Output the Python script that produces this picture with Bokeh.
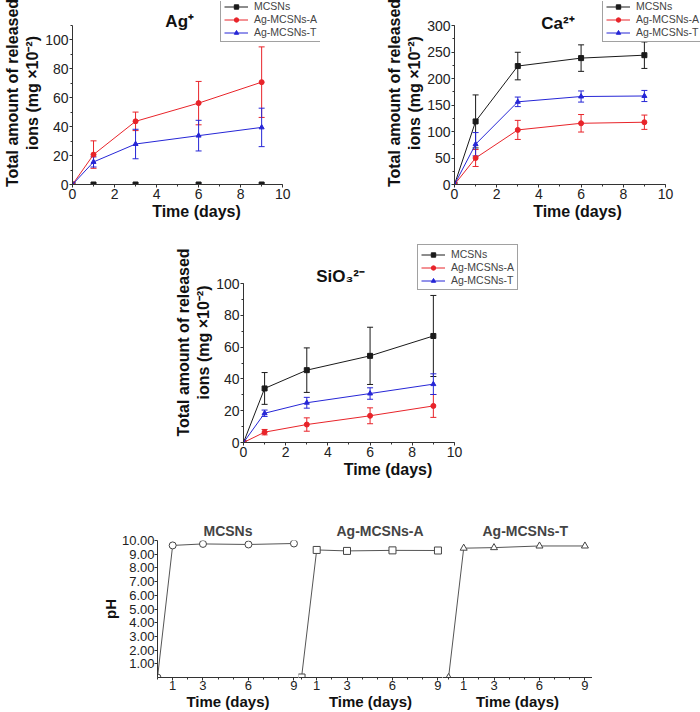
from bokeh.plotting import figure
from bokeh.models import (Range1d, SingleIntervalTicker, FixedTicker, ColumnDataSource,
                          Whisker, TeeHead, NumeralTickFormatter, Spacer, Label)
from bokeh.layouts import column, row
from bokeh.embed import file_html
from bokeh.resources import INLINE

# ---------------- data ----------------
days = [0, 1, 3, 6, 9]
series_names = ["MCSNs", "Ag-MCSNs-A", "Ag-MCSNs-T"]

# Ag+ release (mg x10^-2)
ag_mcsns = [0, 0, 0, 0, 0]
ag_mcsns_err = [0, 0, 0, 0, 0]
ag_a = [0, 20.7, 43.7, 56.3, 70.8]
ag_a_err = [0, 9.5, 6.4, 15.0, 24.4]
ag_t = [0, 15.6, 28.0, 33.8, 39.5]
ag_t_err = [0, 3.5, 10.2, 10.6, 13.3]

# Ca2+ release
ca_mcsns = [0, 119, 223.5, 238.5, 244]
ca_mcsns_err = [0, 50, 26, 25, 25]
ca_a = [0, 50, 103, 115.5, 117.5]
ca_a_err = [0, 16, 18, 16.5, 13.5]
ca_t = [0, 76, 156, 166, 167]
ca_t_err = [0, 22, 9, 10.5, 10.5]

# SiO3 2- release
si_mcsns = [0, 34, 45.5, 54.5, 67]
si_mcsns_err = [0, 10, 14, 18, 25.5]
si_a = [0, 6.5, 11.3, 16.8, 23]
si_a_err = [0, 1.7, 4.2, 5.0, 7.2]
si_t = [0, 18.4, 25, 30.8, 36.7]
si_t_err = [0, 2.0, 3.4, 3.6, 6.5]

# pH
ph_mcsns = [0, 9.64, 9.75, 9.71, 9.78]
ph_a = [0, 9.31, 9.24, 9.28, 9.27]
ph_t = [0, 9.44, 9.48, 9.60, 9.60]

ph_ticks = [1, 3, 6, 9]
ph_minor = [0, 2, 4, 5, 7, 8]
ph_yticks = [1, 2, 3, 4, 5, 6, 7, 8, 9, 10]

# ---------------- styles ----------------
FONT = "Liberation Sans"
COLORS = ["#1a1a1a", "#e8242a", "#2626d6"]
MARKERS = ["square", "circle", "triangle"]
YLABEL = "Total amount of released\nions (mg \u00d710\u207b\u00b2)"


def style_axes(p, label_size="16px"):
    for ax in p.xaxis + p.yaxis:
        ax.axis_line_color = "#333333"
        ax.major_tick_line_color = "#333333"
        ax.minor_tick_line_color = "#333333"
        ax.major_tick_in = 0
        ax.major_tick_out = 3
        ax.minor_tick_in = 0
        ax.minor_tick_out = 2
        ax.major_label_text_font = FONT
        ax.major_label_text_font_size = "14px"
        ax.major_label_text_color = "#222222"
        ax.major_label_standoff = 1
        ax.axis_label_text_font = FONT
        ax.axis_label_text_font_style = "bold"
        ax.axis_label_text_font_size = label_size
        ax.axis_label_text_color = "#111111"
        ax.axis_label_standoff = 1
    p.xgrid.visible = False
    p.ygrid.visible = False
    p.outline_line_color = None


def release_plot(title, title_pos, ytop, ystep, yrange_max, xrange_max, data,
                 width, height, borders, legend_loc):
    left, right, top, bottom = borders
    p = figure(width=width, height=height, output_backend="svg", toolbar_location=None,
               x_range=Range1d(0, xrange_max), y_range=Range1d(0, yrange_max),
               min_border_left=left, min_border_right=right,
               min_border_top=top, min_border_bottom=bottom)
    p.xaxis.ticker = SingleIntervalTicker(interval=2, num_minor_ticks=2)
    p.yaxis.ticker = SingleIntervalTicker(interval=ystep, num_minor_ticks=2)
    p.xaxis.bounds = (0, 10)
    p.yaxis.bounds = (0, ytop)
    p.xaxis.axis_label = "Time (days)"
    p.yaxis.axis_label = YLABEL
    style_axes(p)
    p.add_layout(Label(x=title_pos[0], y=title_pos[1], text=title, text_align="center",
                       text_baseline="alphabetic", text_font=FONT, text_font_size="17px",
                       text_font_style="bold", text_color="#111111"))

    for (vals, errs), name, c, m in zip(data, series_names, COLORS, MARKERS):
        src = ColumnDataSource(dict(x=days, y=vals))
        p.line("x", "y", source=src, line_color=c, line_width=1, legend_label=name)
        p.scatter("x", "y", source=src, marker=m, size=5, color=c, legend_label=name)
        ex = [d for d, e in zip(days, errs) if e > 0]
        up = [v + e for v, e in zip(vals, errs) if e > 0]
        lo = [v - e for v, e in zip(vals, errs) if e > 0]
        if ex:
            wsrc = ColumnDataSource(dict(x=ex, upper=up, lower=lo))
            p.add_layout(Whisker(base="x", upper="upper", lower="lower", source=wsrc,
                                 line_color=c, line_width=1,
                                 upper_head=TeeHead(size=6, line_color=c, line_width=1),
                                 lower_head=TeeHead(size=6, line_color=c, line_width=1)))
    lg = p.legend[0]
    lg.location = legend_loc
    lg.label_text_font = FONT
    lg.label_text_font_size = "10.5px"
    lg.label_height = 11
    lg.glyph_height = 11
    lg.glyph_width = 24
    lg.label_standoff = 6
    lg.spacing = 1
    lg.padding = 3
    lg.margin = 0
    lg.border_line_color = "#444444"
    lg.border_line_width = 1
    lg.background_fill_alpha = 1
    return p


pA = release_plot("Ag\u207a", (5.1, 112.5), 110, 20, 126.6, 11.8,
                  [(ag_mcsns, ag_mcsns_err), (ag_a, ag_a_err), (ag_t, ag_t_err)],
                  350, 230, (70, 30, 1, 46), (148, 142))
pB = release_plot("Ca\u00b2\u207a", (4.9, 303.8), 300, 50, 345.3, 11.66,
                  [(ca_mcsns, ca_mcsns_err), (ca_a, ca_a_err), (ca_t, ca_t_err)],
                  350, 230, (104, 0, 1, 46), (148, 142))
pC = release_plot("SiO\u2083\u00b2\u207b", (4.6, 104.4), 100, 20, 125.8, 13.7,
                  [(si_mcsns, si_mcsns_err), (si_a, si_a_err), (si_t, si_t_err)],
                  380, 260, (83, 8, 12, 48), (174, 152))


def ph_plot(title, vals, marker, width, xr, left, yaxis, title_align, title_offset):
    p = figure(width=width, height=222, output_backend="svg", toolbar_location=None,
               x_range=Range1d(*xr), y_range=Range1d(0, 10),
               min_border_left=left, min_border_right=0,
               min_border_top=50, min_border_bottom=32,
               y_axis_location="left" if yaxis else None)
    p.xaxis.ticker = FixedTicker(ticks=ph_ticks, minor_ticks=ph_minor)
    p.xaxis.axis_label = "Time (days)"
    if yaxis:
        p.yaxis.ticker = FixedTicker(ticks=ph_yticks)
        p.yaxis.formatter = NumeralTickFormatter(format="0.00")
        p.yaxis.axis_label = "pH"
    style_axes(p, label_size="15px")
    for ax in p.xaxis + p.yaxis:
        ax.major_label_text_font_size = "13px"
        ax.major_label_standoff = 0
        ax.axis_label_standoff = 0
    p.title.text = title
    p.title.align = title_align
    p.title.offset = title_offset
    p.title.text_font = FONT
    p.title.text_font_size = "14px"
    p.title.text_font_style = "bold"
    p.title.standoff = 4
    src = ColumnDataSource(dict(x=days, y=vals))
    p.line("x", "y", source=src, line_color="#555555", line_width=1)
    p.scatter("x", "y", source=src, marker=marker, size=7, line_color="#444444",
              fill_color="white", line_width=1)
    return p


ph1 = ph_plot("MCSNs", ph_mcsns, "circle", 298, (0, 9.3), 157, True, "center", 0)
ph2 = ph_plot("Ag-MCSNs-A", ph_a, "square", 144, (-0.2, 9.3), 0, False, "left", 38)
ph3 = ph_plot("Ag-MCSNs-T", ph_t, "triangle", 150, (-0.4, 9.5), 0, False, "left", 40)

layout = column(
    row(pA, pB),
    row(Spacer(width=160, height=260), pC),
    row(ph1, ph2, ph3),
)

open("out.html", "w").write(file_html(layout, INLINE))
